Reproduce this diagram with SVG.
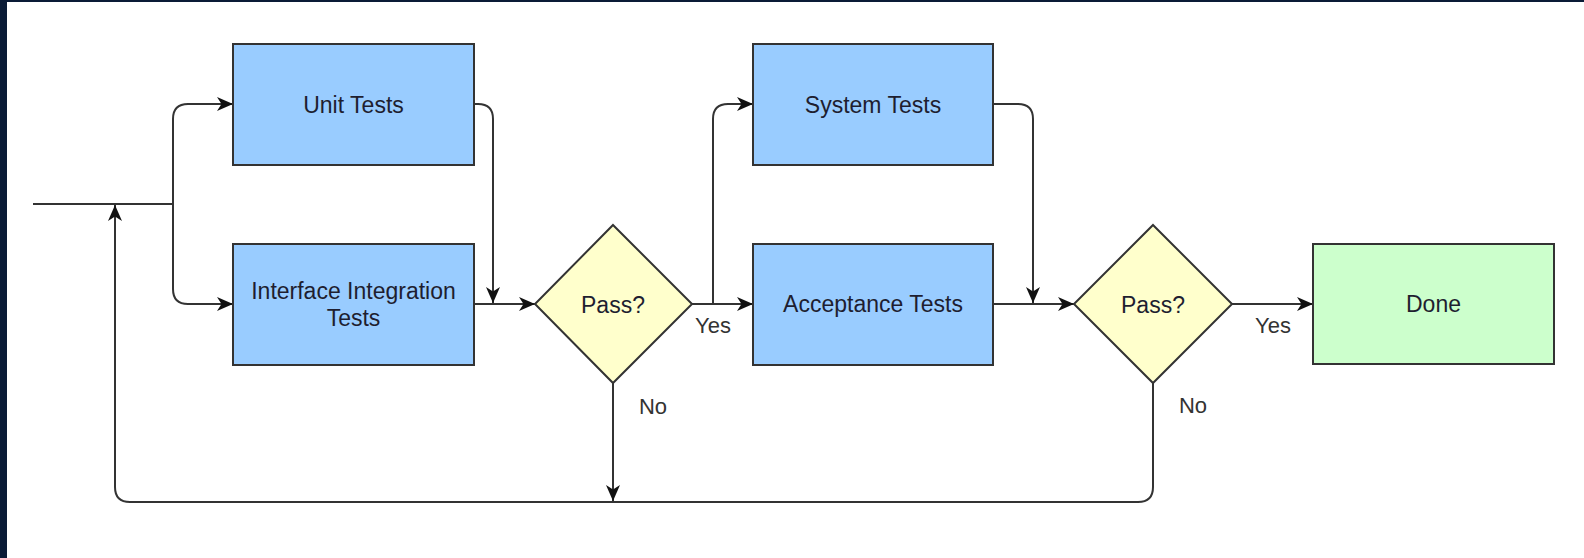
<svg xmlns="http://www.w3.org/2000/svg" width="1584" height="558" viewBox="0 0 1584 558">
  <style>
    .box { stroke: #333333; stroke-width: 2; }
    .proc { fill: #99ccff; }
    .dec { fill: #ffffcc; }
    .done { fill: #ccffcc; }
    .lbl { font-family: "Liberation Sans", Arial, sans-serif; font-size: 23px; fill: #1e1e30; text-anchor: middle; dominant-baseline: central; }
    .edge-lbl { font-family: "Liberation Sans", Arial, sans-serif; font-size: 22px; fill: #333333; text-anchor: middle; dominant-baseline: central; }
    .edge { fill: none; stroke: #333333; stroke-width: 2; }
  </style>
  <defs>
    <marker id="arrow" viewBox="0 0 16 14" refX="16" refY="7" markerWidth="16" markerHeight="14" markerUnits="userSpaceOnUse" orient="auto">
      <path d="M0,0 L16,7 L0,14 L4.5,7 z" fill="#111111"/>
    </marker>
  </defs>

  <!-- page background and frame -->
  <rect x="0" y="0" width="1584" height="558" fill="#ffffff"/>
  <rect x="0" y="0" width="1584" height="2" fill="#0a1b36"/>
  <rect x="0" y="0" width="7" height="558" fill="#0a1b36"/>

  <!-- connectors -->
  <g id="connectors">
    <path class="edge" d="M33,204 H173"/>
    <path class="edge" d="M173,204 V119 Q173,104 188,104 H233" marker-end="url(#arrow)"/>
    <path class="edge" d="M173,204 V289 Q173,304 188,304 H233" marker-end="url(#arrow)"/>
    <path class="edge" d="M474,104 H478 Q493,104 493,119 V303" marker-end="url(#arrow)"/>
    <path class="edge" d="M474,304 H535" marker-end="url(#arrow)"/>
    <path class="edge" d="M692,304 H753" marker-end="url(#arrow)"/>
    <path class="edge" d="M713,304 V119 Q713,104 728,104 H753" marker-end="url(#arrow)"/>
    <path class="edge" d="M993,104 H1018 Q1033,104 1033,119 V303" marker-end="url(#arrow)"/>
    <path class="edge" d="M993,304 H1074" marker-end="url(#arrow)"/>
    <path class="edge" d="M1232,304 H1313" marker-end="url(#arrow)"/>
    <path class="edge" d="M1153,383 V487 Q1153,502 1138,502 H130 Q115,502 115,487 V205" marker-end="url(#arrow)"/>
    <path class="edge" d="M613,383 V501" marker-end="url(#arrow)"/>
    <text class="edge-lbl" x="713" y="325">Yes</text>
    <text class="edge-lbl" x="653" y="406">No</text>
    <text class="edge-lbl" x="1273" y="325">Yes</text>
    <text class="edge-lbl" x="1193" y="405">No</text>
  </g>

  <g id="unit-tests">
    <rect class="box proc" x="233" y="44" width="241" height="121"/>
    <text class="lbl" x="353.5" y="104.5">Unit Tests</text>
  </g>

  <g id="interface-integration-tests">
    <rect class="box proc" x="233" y="244" width="241" height="121"/>
    <text class="lbl" x="353.5" y="291">Interface Integration</text>
    <text class="lbl" x="353.5" y="318">Tests</text>
  </g>

  <g id="pass-1">
    <polygon class="box dec" points="613,225 692,304 613,383 535,304"/>
    <text class="lbl" x="613" y="305">Pass?</text>
  </g>

  <g id="system-tests">
    <rect class="box proc" x="753" y="44" width="240" height="121"/>
    <text class="lbl" x="873" y="104.5">System Tests</text>
  </g>

  <g id="acceptance-tests">
    <rect class="box proc" x="753" y="244" width="240" height="121"/>
    <text class="lbl" x="873" y="304">Acceptance Tests</text>
  </g>

  <g id="pass-2">
    <polygon class="box dec" points="1153,225 1232,304 1153,383 1074,304"/>
    <text class="lbl" x="1153" y="305">Pass?</text>
  </g>

  <g id="done">
    <rect class="box done" x="1313" y="244" width="241" height="120"/>
    <text class="lbl" x="1433.5" y="304">Done</text>
  </g>
</svg>
